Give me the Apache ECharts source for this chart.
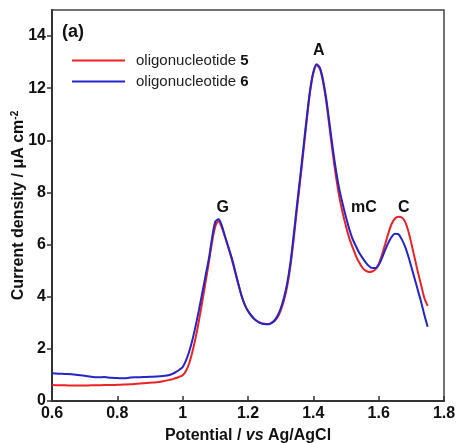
<!DOCTYPE html>
<html>
<head>
<meta charset="utf-8">
<script src="https://cdn.jsdelivr.net/npm/echarts@6/dist/echarts.min.js"></script>
<style>html,body{margin:0;padding:0;background:#fff}#c{width:456px;height:443px}</style>
</head>
<body>
<div id="c"></div>
<script>
// Potential (V vs Ag/AgCl)
const potential = [
  0.60,0.62,0.64,0.66,0.68,0.70,0.72,0.74,0.76,0.78,0.80,0.82,0.84,0.86,0.88,0.90,0.92,0.94,0.96,
  0.97,0.98,0.99,1.00,1.01,1.02,1.03,1.04,1.05,1.06,1.07,1.08,1.09,1.10,1.11,1.12,1.13,1.14,1.15,
  1.16,1.17,1.18,1.19,1.20,1.21,1.22,1.23,1.24,1.25,1.26,1.27,1.28,1.29,1.30,1.31,1.32,1.33,1.34,
  1.35,1.36,1.37,1.38,1.39,1.40,1.41,1.42,1.43,1.44,1.45,1.46,1.47,1.48,1.49,1.50,1.51,1.52,1.53,
  1.54,1.55,1.56,1.57,1.58,1.59,1.60,1.61,1.62,1.63,1.64,1.65,1.66,1.67,1.68,1.69,1.70,1.71,1.72,
  1.73,1.74,1.75
];
// Current density (µA cm-2), oligonucleotide 5 (red)
const oligo5 = [
  0.61,0.60,0.60,0.59,0.59,0.59,0.60,0.60,0.61,0.61,0.62,0.63,0.64,0.66,0.68,0.70,0.72,0.76,0.81,
  0.84,0.88,0.93,0.99,1.15,1.45,1.90,2.45,3.10,3.80,4.55,5.30,6.10,6.70,6.90,6.65,6.28,5.88,5.45,
  4.98,4.50,4.05,3.70,3.45,3.27,3.14,3.05,2.99,2.96,2.95,2.98,3.05,3.20,3.47,3.86,4.40,5.18,6.22,
  7.38,8.48,9.62,10.78,11.85,12.57,12.88,12.75,12.22,11.45,10.45,9.45,8.55,7.80,7.20,6.70,6.25,5.90,5.58,
  5.32,5.12,5.00,4.95,4.97,5.05,5.25,5.60,6.02,6.45,6.80,7.00,7.07,7.05,6.90,6.55,6.05,5.50,4.95,
  4.45,3.95,3.65
];
// Current density (µA cm-2), oligonucleotide 6 (blue)
const oligo6 = [
  1.06,1.05,1.04,1.03,1.00,0.97,0.93,0.91,0.92,0.89,0.88,0.87,0.90,0.91,0.92,0.93,0.94,0.96,1.00,
  1.05,1.12,1.20,1.30,1.55,1.90,2.35,2.90,3.50,4.15,4.80,5.45,6.25,6.88,6.97,6.72,6.30,5.90,5.50,
  5.02,4.52,4.05,3.70,3.45,3.28,3.14,3.04,2.98,2.95,2.94,2.98,3.08,3.26,3.55,3.96,4.52,5.32,6.38,
  7.52,8.62,9.76,10.90,11.93,12.62,12.92,12.78,12.30,11.55,10.60,9.65,8.80,8.10,7.55,7.05,6.60,6.22,5.95,
  5.70,5.50,5.32,5.18,5.10,5.10,5.22,5.48,5.80,6.08,6.30,6.42,6.40,6.22,5.95,5.58,5.15,4.70,4.25,
  3.80,3.30,2.85
];
const seriesNames = ['oligonucleotide 5', 'oligonucleotide 6'];
// Peak labels: [potential, current, text]
const peakLabels = [
  [1.123, 7.42, 'G'],
  [1.417, 13.43, 'A'],
  [1.555, 7.42, 'mC'],
  [1.677, 7.42, 'C']
];
const xTicks = {min: 0.6, max: 1.8, interval: 0.2};
const yTicks = {min: 0, max: 15, interval: 2};

const FONT = 'Liberation Sans, Arial, sans-serif';
const RED = '#ec2226', BLUE = '#2424c8';
const chart = echarts.init(document.getElementById('c'));
const pair = arr => potential.map((p, i) => [p, arr[i]]);
chart.setOption({
  animation: false,
  backgroundColor: '#fff',
  textStyle: {fontFamily: FONT},
  grid: {left: 52, right: 12, top: 10, bottom: 42, show: true, borderColor: '#444', borderWidth: 1.5,
         containLabel: false, outerBoundsMode: 'none'},
  graphic: [{
    type: 'text', left: 62, top: 23,
    style: {text: '(a)', font: 'bold 18px ' + FONT, fill: '#111'}
  }],
  legend: {
    left: 72, top: 53, padding: 0, orient: 'vertical', itemWidth: 53, itemHeight: 2, itemGap: 6,
    data: [{name: seriesNames[0], icon: 'rect'}, {name: seriesNames[1], icon: 'rect'}],
    formatter: n => '{a|oligonucleotide }{b|' + n.split(' ')[1] + '}',
    textStyle: {
      fontFamily: FONT, fontSize: 15, color: '#222', padding: [0, 0, 0, 6],
      rich: {a: {fontFamily: FONT, fontSize: 15, color: '#222', height: 17},
             b: {fontFamily: FONT, fontSize: 15, fontWeight: 'bold', color: '#111', height: 17}}
    }
  },
  xAxis: {
    type: 'value', min: xTicks.min, max: xTicks.max, interval: xTicks.interval,
    name: '{a|Potential / }{i|vs}{a| Ag/AgCl}', nameLocation: 'middle', nameGap: 27, nameMoveOverlap: false,
    nameTextStyle: {rich: {
      a: {fontFamily: FONT, fontSize: 16, fontWeight: 'bold', color: '#111'},
      i: {fontFamily: FONT, fontSize: 16, fontWeight: 'bold', fontStyle: 'italic', color: '#111'}}},
    axisLine: {lineStyle: {color: '#333', width: 2}},
    axisTick: {inside: true, length: 5, lineStyle: {color: '#333', width: 1.5}},
    axisLabel: {fontFamily: FONT, fontSize: 16, fontWeight: 'bold', color: '#111', margin: 5},
    splitLine: {show: false}
  },
  yAxis: {
    type: 'value', min: yTicks.min, max: yTicks.max, interval: yTicks.interval,
    name: '{a|Current density / μA cm}{s|-2}', nameLocation: 'middle', nameGap: 25, nameMoveOverlap: false,
    nameTextStyle: {rich: {
      a: {fontFamily: FONT, fontSize: 16, fontWeight: 'bold', color: '#111'},
      s: {fontFamily: FONT, fontSize: 10, fontWeight: 'bold', color: '#111', verticalAlign: 'top', padding: [0,0,7,0]}}},
    axisLine: {show: true, lineStyle: {color: '#333', width: 2}},
    axisTick: {show: true, inside: false, length: 5, lineStyle: {color: '#333', width: 1.5}},
    axisLabel: {fontFamily: FONT, fontSize: 16, fontWeight: 'bold', color: '#111', margin: 6, showMaxLabel: false},
    splitLine: {show: false}
  },
  series: [
    {
      name: seriesNames[0], type: 'line', data: pair(oligo5), smooth: 0.3, symbol: 'none',
      lineStyle: {color: RED, width: 2}, itemStyle: {color: RED}, z: 2
    },
    {
      name: seriesNames[1], type: 'line', data: pair(oligo6), smooth: 0.3, symbol: 'none',
      lineStyle: {color: BLUE, width: 2}, itemStyle: {color: BLUE}, z: 3,
      markPoint: {
        symbolSize: 0, silent: true,
        label: {show: true, position: 'inside', formatter: '{b}', fontFamily: FONT, fontSize: 16, fontWeight: 'bold', color: '#111'},
        data: peakLabels.map(p => ({name: p[2], coord: [p[0], p[1]]}))
      }
    }
  ]
});
</script>
</body>
</html>
